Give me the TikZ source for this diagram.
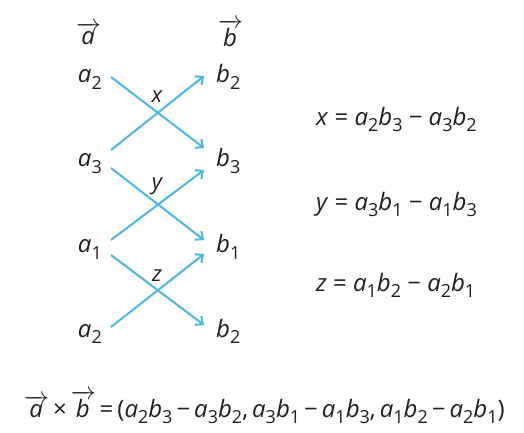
\documentclass[tikz,border=0pt]{standalone}
\usepackage{fontspec}
\setmainfont{Open Sans}
\usetikzlibrary{arrows.meta}
\definecolor{ink}{HTML}{231F20}
\definecolor{sky}{HTML}{4DB6E8}
\newcommand{\sbs}[1]{\raisebox{-6.5pt}{\fontsize{18}{18}\selectfont\upshape #1}}
\newcommand{\vv}[2]{\textit{#1}\sbs{#2}}
\newcommand{\vecsym}[1]{$\overrightarrow{\hbox{\kern1pt\itshape #1\kern2pt}}$}
\tikzset{
  lbl/.style={inner sep=0pt, text=ink, font=\fontsize{24}{28}\selectfont},
  sm/.style={inner sep=0pt, text=ink, font=\fontsize{22}{26}\selectfont\itshape},
  link/.style={draw=sky, line width=2pt, -{Straight Barb[length=6pt,width=11pt,line width=2pt]}}
}
\begin{document}
\begin{tikzpicture}[x=1pt,y=-1pt]
\useasboundingbox (0,0) rectangle (524,432);
% headers
\node[lbl, anchor=base west] (va) at (76,44) {\vecsym{a}};
\node[lbl, anchor=base west] (vb) at (218,46) {\vecsym{b}};
% left column
\node[lbl, anchor=base east] (a1) at (102,82.5) {\vv{a}{2}};
\node[lbl, anchor=base east] (a2) at (102,166.5) {\vv{a}{3}};
\node[lbl, anchor=base east] (a3) at (102,252.5) {\vv{a}{1}};
\node[lbl, anchor=base east] (a4) at (102,337) {\vv{a}{2}};
% right column
\node[lbl, anchor=base west] (b1) at (216,82.5) {\vv{b}{2}};
\node[lbl, anchor=base west] (b2) at (216,166.5) {\vv{b}{3}};
\node[lbl, anchor=base west] (b3) at (216,252.5) {\vv{b}{1}};
\node[lbl, anchor=base west] (b4) at (216,337) {\vv{b}{2}};
% crossing arrows
\draw[link] ([shift={(9,-5.5)}]a1.base east) -- ([shift={(-12,-18.5)}]b2.base west);
\draw[link] ([shift={(9,-16.5)}]a2.base east) -- ([shift={(-12,-6.5)}]b1.base west);
\draw[link] ([shift={(9,1.5)}]a2.base east) -- ([shift={(-12,-12.5)}]b3.base west);
\draw[link] ([shift={(9,-12.5)}]a3.base east) -- ([shift={(-12,3.5)}]b2.base west);
\draw[link] ([shift={(9,2.5)}]a3.base east) -- ([shift={(-12,-12)}]b4.base west);
\draw[link] ([shift={(9,-10)}]a4.base east) -- ([shift={(-12,1.5)}]b3.base west);
% crossing labels
\node[sm] (lx) at (157,97) {x};
\node[sm] (ly) at (157,186) {y};
\node[sm] (lz) at (157,276) {z};
% equations
\node[lbl, anchor=base west] (ex) at (316,125) {\textit{x} = \vv{a}{2}\vv{b}{3} − \vv{a}{3}\vv{b}{2}};
\node[lbl, anchor=base west] (ey) at (316,210) {\textit{y} = \vv{a}{3}\vv{b}{1} − \vv{a}{1}\vv{b}{3}};
\node[lbl, anchor=base west] (ez) at (316,291) {\textit{z} = \vv{a}{1}\vv{b}{2} − \vv{a}{2}\vv{b}{1}};
\node[lbl, anchor=base west] (cross) at (24,417) {\spaceskip=4pt\relax\vecsym{a} × \vecsym{b} = (\vv{a}{2}\vv{b}{3} − \vv{a}{3}\vv{b}{2}, \vv{a}{3}\vv{b}{1} − \vv{a}{1}\vv{b}{3}, \vv{a}{1}\vv{b}{2} − \vv{a}{2}\vv{b}{1})};
\end{tikzpicture}
\end{document}
